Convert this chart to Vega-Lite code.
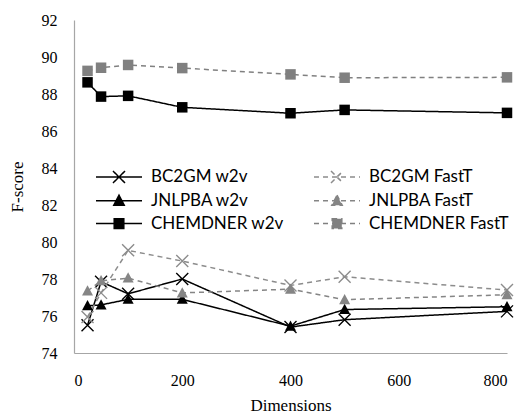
{
  "$schema": "https://vega.github.io/schema/vega-lite/v6.json",
  "width": 433,
  "height": 333,
  "autosize": {"type": "none"},
  "padding": {"left": 74, "top": 20, "right": 18, "bottom": 63},
  "background": "white",
  "config": {
    "view": {"stroke": null},
    "axis": {
      "grid": false,
      "ticks": false,
      "domainColor": "#a6a6a6",
      "domainWidth": 1.2,
      "labelFont": "Liberation Serif",
      "labelFontSize": 16,
      "labelColor": "#000000",
      "titleFont": "Liberation Serif",
      "titleFontSize": 17,
      "titleFontWeight": "normal",
      "titleColor": "#000000"
    }
  },
  "data": {
    "values": [
      {"d": 25, "s": "BC2GM w2v", "f": 75.5},
      {"d": 50, "s": "BC2GM w2v", "f": 77.85},
      {"d": 100, "s": "BC2GM w2v", "f": 77.2},
      {"d": 200, "s": "BC2GM w2v", "f": 78.0},
      {"d": 400, "s": "BC2GM w2v", "f": 75.4},
      {"d": 500, "s": "BC2GM w2v", "f": 75.8},
      {"d": 800, "s": "BC2GM w2v", "f": 76.25},
      {"d": 25, "s": "JNLPBA w2v", "f": 76.55},
      {"d": 50, "s": "JNLPBA w2v", "f": 76.6},
      {"d": 100, "s": "JNLPBA w2v", "f": 76.9},
      {"d": 200, "s": "JNLPBA w2v", "f": 76.9},
      {"d": 400, "s": "JNLPBA w2v", "f": 75.45},
      {"d": 500, "s": "JNLPBA w2v", "f": 76.35},
      {"d": 800, "s": "JNLPBA w2v", "f": 76.5},
      {"d": 25, "s": "CHEMDNER w2v", "f": 88.63},
      {"d": 50, "s": "CHEMDNER w2v", "f": 87.86},
      {"d": 100, "s": "CHEMDNER w2v", "f": 87.9},
      {"d": 200, "s": "CHEMDNER w2v", "f": 87.28},
      {"d": 400, "s": "CHEMDNER w2v", "f": 86.96},
      {"d": 500, "s": "CHEMDNER w2v", "f": 87.14},
      {"d": 800, "s": "CHEMDNER w2v", "f": 86.98},
      {"d": 25, "s": "BC2GM FastT", "f": 75.95},
      {"d": 50, "s": "BC2GM FastT", "f": 77.25},
      {"d": 100, "s": "BC2GM FastT", "f": 79.55},
      {"d": 200, "s": "BC2GM FastT", "f": 78.97},
      {"d": 400, "s": "BC2GM FastT", "f": 77.65},
      {"d": 500, "s": "BC2GM FastT", "f": 78.12},
      {"d": 800, "s": "BC2GM FastT", "f": 77.4},
      {"d": 25, "s": "JNLPBA FastT", "f": 77.35},
      {"d": 50, "s": "JNLPBA FastT", "f": 77.9},
      {"d": 100, "s": "JNLPBA FastT", "f": 78.05},
      {"d": 200, "s": "JNLPBA FastT", "f": 77.25},
      {"d": 400, "s": "JNLPBA FastT", "f": 77.45},
      {"d": 500, "s": "JNLPBA FastT", "f": 76.88},
      {"d": 800, "s": "JNLPBA FastT", "f": 77.15},
      {"d": 25, "s": "CHEMDNER FastT", "f": 89.25},
      {"d": 50, "s": "CHEMDNER FastT", "f": 89.42},
      {"d": 100, "s": "CHEMDNER FastT", "f": 89.57},
      {"d": 200, "s": "CHEMDNER FastT", "f": 89.4},
      {"d": 400, "s": "CHEMDNER FastT", "f": 89.06},
      {"d": 500, "s": "CHEMDNER FastT", "f": 88.88},
      {"d": 800, "s": "CHEMDNER FastT", "f": 88.9}
    ]
  },
  "encoding": {
    "x": {
      "field": "d", "type": "quantitative",
      "scale": {"domain": [0, 800], "nice": false},
      "axis": {"values": [0, 200, 400, 600, 800], "title": "Dimensions", "labelFont": "Liberation Serif", "labelPadding": 19, "titlePadding": 9}
    },
    "y": {
      "field": "f", "type": "quantitative",
      "scale": {"domain": [74, 92], "nice": false, "zero": false},
      "axis": {"values": [74, 76, 78, 80, 82, 84, 86, 88, 90, 92], "title": "F-score", "labelFont": "Liberation Serif", "labelPadding": 17, "titlePadding": 15}
    },
    "color": {
      "field": "s", "type": "nominal",
      "scale": {
        "domain": ["BC2GM w2v", "JNLPBA w2v", "CHEMDNER w2v", "BC2GM FastT", "JNLPBA FastT", "CHEMDNER FastT"],
        "range": ["#000000", "#000000", "#000000", "#8c8c8c", "#858585", "#808080"]
      },
      "legend": {
        "title": null,
        "orient": "none",
        "legendX": 36,
        "legendY": 148,
        "columns": 2,
        "columnPadding": 27,
        "rowPadding": 5.8,
        "padding": 0,
        "symbolSize": 256,
        "labelOffset": 23,
        "labelFont": "Lato",
        "labelFontSize": 17,
        "labelColor": "#000000",
        "labelLimit": 200,
        "encode": {
          "symbols": {
            "update": {
              "shape": {"signal": "indexof(datum.value, 'BC2GM') >= 0 ? 'M-2.875,0H2.875M-0.75,-0.75L0.75,0.75M-0.75,0.75L0.75,-0.75' : indexof(datum.value, 'JNLPBA') >= 0 ? 'M-2.875,0H2.875M0,-0.7L0.65,0.55L-0.65,0.55Z' : 'M-2.875,0H2.875M-0.6,-0.6H0.6V0.6H-0.6Z'"},
              "fill": {"signal": "indexof(datum.value, 'FastT') >= 0 ? '#808080' : '#000000'"},
              "stroke": {"signal": "indexof(datum.value, 'FastT') >= 0 ? '#8c8c8c' : '#000000'"},
              "strokeDash": {"signal": "indexof(datum.value, 'FastT') >= 0 ? [4, 3] : [1, 0]"},
              "strokeWidth": {"value": 1.5},
              "opacity": {"value": 1}
            }
          }
        }
      }
    }
  },
  "layer": [
    {
      "mark": {"type": "line", "strokeWidth": 1.5},
      "encoding": {
        "strokeDash": {
          "field": "s", "type": "nominal",
          "scale": {
            "domain": ["BC2GM w2v", "JNLPBA w2v", "CHEMDNER w2v", "BC2GM FastT", "JNLPBA FastT", "CHEMDNER FastT"],
            "range": [[1, 0], [1, 0], [1, 0], [5, 4], [5, 4], [5, 4]]
          }
        },
        "order": {"field": "d"}
      }
    },
    {
      "transform": [{"filter": {"field": "s", "oneOf": ["BC2GM w2v", "BC2GM FastT"]}}],
      "mark": {"type": "point", "filled": false, "size": 25, "strokeWidth": 1.4, "opacity": 1, "shape": "M-2.4,-2.4L2.4,2.4M-2.4,2.4L2.4,-2.4"}
    },
    {
      "transform": [{"filter": {"field": "s", "oneOf": ["JNLPBA w2v", "JNLPBA FastT"]}}],
      "mark": {"type": "point", "filled": true, "size": 25, "opacity": 1, "shape": "M0,-2.3L2.2,1.8L-2.2,1.8Z"}
    },
    {
      "transform": [{"filter": {"field": "s", "oneOf": ["CHEMDNER w2v", "CHEMDNER FastT"]}}],
      "mark": {"type": "point", "filled": true, "size": 25, "opacity": 1, "shape": "M-2.1,-2.1H2.1V2.1H-2.1Z"}
    }
  ]
}
